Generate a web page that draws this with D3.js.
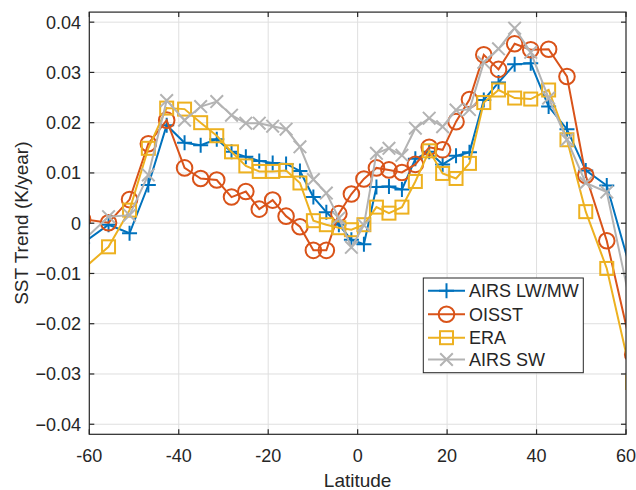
<!DOCTYPE html>
<html>
<head>
<meta charset="utf-8">
<script src="https://cdn.jsdelivr.net/npm/d3@7"></script>
<style>
  body { margin: 0; background: #fff; }
  text { font-family: "Liberation Sans", Arial, sans-serif; fill: #262626; }
</style>
</head>
<body>
<div id="chart"></div>
<script>
// latitude bins (the outer ones fall just outside the axes and get clipped)
const lats = [-61.5, -55.7, -51.0, -46.8, -42.7, -38.7, -35.1, -31.5, -28.2, -25.0,
  -22.0, -19.0, -16.0, -12.9, -9.9, -7.0, -4.2, -1.4, 1.4, 4.2, 7.0, 9.9, 12.9,
  16.0, 19.0, 22.0, 25.0, 28.2, 31.5, 35.1, 38.7, 42.7, 46.8, 51.0, 55.7, 61.5];

const airsLW = [-0.004, -0.0003, -0.002, 0.0076, 0.0195, 0.016, 0.0155, 0.0167, 0.0142, 0.0132,
  0.0124, 0.012, 0.0118, 0.0104, 0.0052, 0.0022, -0.0003, -0.0033, -0.0042, 0.0072, 0.0073, 0.0067, 0.0128,
  0.0142, 0.0117, 0.0134, 0.0141, 0.0245, 0.028, 0.0316, 0.0318, 0.0232, 0.0187, 0.0105, 0.0075, -0.0107];

const oisst = [0.0008, 0.0001, 0.0047, 0.0158, 0.0205, 0.011, 0.0089, 0.0086, 0.0052, 0.0063,
  0.0028, 0.0046, 0.0014, -0.0007, -0.0054, -0.0054, 0.0019, 0.0058, 0.0088, 0.011, 0.0106, 0.0101, 0.0117,
  0.0151, 0.0146, 0.0202, 0.0246, 0.0335, 0.0306, 0.0357, 0.0345, 0.0346, 0.0292, 0.0095, -0.0035, -0.0261];

const era = [-0.0092, -0.0047, 0.0026, 0.0149, 0.0229, 0.0227, 0.02, 0.0174, 0.0142, 0.0114,
  0.0103, 0.0103, 0.0105, 0.008, 0.0005, -0.0003, -0.0009, -0.0013, -0.0003, 0.0032, 0.002, 0.0032, 0.0083,
  0.0144, 0.0099, 0.0089, 0.0119, 0.024, 0.0265, 0.0249, 0.0247, 0.0265, 0.0166, 0.0023, -0.009, -0.0317];

const airsSW = [-0.0036, 0.0013, 0.0016, 0.0096, 0.0244, 0.0205, 0.0232, 0.0242, 0.0215, 0.0199,
  0.0199, 0.0193, 0.0187, 0.0152, 0.0087, 0.006, 0.001, -0.0048, -0.0004, 0.0139, 0.0149, 0.0135, 0.0189,
  0.0209, 0.0192, 0.0225, 0.0226, 0.032, 0.0347, 0.0388, 0.034, 0.0249, 0.0166, 0.008, 0.0062, -0.0182];

const seriesNames = ["AIRS LW/MW", "OISST", "ERA", "AIRS SW"];
const xTicks = [-60, -40, -20, 0, 20, 40, 60];
const yTicks = [-0.04, -0.03, -0.02, -0.01, 0, 0.01, 0.02, 0.03, 0.04];

const W = 636, H = 490;
const box = { left: 89.3, right: 626, top: 12.1, bottom: 434.3 };

const series = [
  { name: seriesNames[0], values: airsLW, color: "#0072BD", marker: "plus" },
  { name: seriesNames[1], values: oisst, color: "#D95319", marker: "circle" },
  { name: seriesNames[2], values: era, color: "#EDB120", marker: "square" },
  { name: seriesNames[3], values: airsSW, color: "#B3B3B3", marker: "cross" }
];

const x = d3.scaleLinear().domain([-60, 60]).range([box.left, box.right]);
const y = d3.scaleLinear().domain([-0.042, 0.042]).range([box.bottom, box.top]);

const svg = d3.select("#chart").append("svg")
    .attr("width", W)
    .attr("height", H);

svg.append("defs").append("clipPath").attr("id", "clip")
  .append("rect")
    .attr("x", box.left).attr("y", box.top)
    .attr("width", box.right - box.left).attr("height", box.bottom - box.top);

// grid
const grid = svg.append("g").attr("stroke", "#dfdfdf").attr("stroke-width", 1);
grid.selectAll(".gx").data(xTicks.slice(1, -1)).join("line")
    .attr("x1", d => x(d)).attr("x2", d => x(d))
    .attr("y1", box.top).attr("y2", box.bottom);
grid.selectAll(".gy").data(yTicks).join("line")
    .attr("x1", box.left).attr("x2", box.right)
    .attr("y1", d => y(d)).attr("y2", d => y(d));

// marker shapes
function drawMarker(g, type, color) {
  const s = 7.5;
  if (type === "plus") {
    g.append("path").attr("d", `M${-s},0H${s}M0,${-s}V${s}`);
  } else if (type === "circle") {
    g.append("circle").attr("r", 7.8);
  } else if (type === "square") {
    g.append("rect").attr("x", -6.5).attr("y", -6.5).attr("width", 13).attr("height", 13);
  } else {
    const c = 6.3;
    g.append("path").attr("d", `M${-c},${-c}L${c},${c}M${-c},${c}L${c},${-c}`);
  }
  g.attr("stroke", color).attr("stroke-width", 2).attr("fill", "none");
}

const line = d3.line().x(d => x(d[0])).y(d => y(d[1]));
const plot = svg.append("g").attr("clip-path", "url(#clip)");

series.forEach(s => {
  const pts = lats.map((la, i) => [la, s.values[i]]);
  const g = plot.append("g");
  g.append("path")
      .attr("d", line(pts))
      .attr("fill", "none")
      .attr("stroke", s.color)
      .attr("stroke-width", 2);
  pts.forEach(p => {
    const m = g.append("g").attr("transform", `translate(${x(p[0])},${y(p[1])})`);
    drawMarker(m, s.marker, s.color);
  });
});

// axes box with inward ticks on all sides
const axisColor = "#262626";
const tl = 5;
const ax = svg.append("g").attr("stroke", axisColor).attr("stroke-width", 1.2);
ax.append("rect")
    .attr("x", box.left).attr("y", box.top)
    .attr("width", box.right - box.left).attr("height", box.bottom - box.top)
    .attr("fill", "none");
xTicks.forEach(t => {
  ax.append("line").attr("x1", x(t)).attr("x2", x(t)).attr("y1", box.bottom).attr("y2", box.bottom - tl);
  ax.append("line").attr("x1", x(t)).attr("x2", x(t)).attr("y1", box.top).attr("y2", box.top + tl);
});
yTicks.forEach(t => {
  ax.append("line").attr("x1", box.left).attr("x2", box.left + tl).attr("y1", y(t)).attr("y2", y(t));
  ax.append("line").attr("x1", box.right).attr("x2", box.right - tl).attr("y1", y(t)).attr("y2", y(t));
});

// tick labels
svg.selectAll(".xl").data(xTicks).join("text")
    .attr("x", d => x(d))
    .attr("y", 461.7)
    .attr("text-anchor", "middle")
    .attr("font-size", 18)
    .text(d => d);
svg.selectAll(".yl").data(yTicks).join("text")
    .attr("x", 81)
    .attr("y", d => y(d) + 6.5)
    .attr("text-anchor", "end")
    .attr("font-size", 18)
    .text(d => d === 0 ? "0" : d3.format(".2f")(d));

// axis labels
svg.append("text")
    .attr("x", (box.left + box.right) / 2)
    .attr("y", 487)
    .attr("text-anchor", "middle")
    .attr("font-size", 19)
    .text("Latitude");
svg.append("text")
    .attr("transform", `translate(28,${(box.top + box.bottom) / 2}) rotate(-90)`)
    .attr("text-anchor", "middle")
    .attr("font-size", 19)
    .text("SST Trend (K/year)");

// legend
const lg = svg.append("g");
lg.append("rect")
    .attr("x", 423.3).attr("y", 278)
    .attr("width", 160).attr("height", 94.7)
    .attr("fill", "#fff")
    .attr("stroke", axisColor)
    .attr("stroke-width", 1);
const rowY = [290.7, 314.3, 337.7, 359.5];
series.forEach((s, i) => {
  const r = lg.append("g");
  r.append("line")
      .attr("x1", 428).attr("x2", 465)
      .attr("y1", rowY[i]).attr("y2", rowY[i])
      .attr("stroke", s.color).attr("stroke-width", 2);
  const m = r.append("g").attr("transform", `translate(446.5,${rowY[i]})`);
  drawMarker(m, s.marker, s.color);
  r.append("text")
      .attr("x", 469)
      .attr("y", rowY[i] + 6.5)
      .attr("font-size", 18)
      .text(s.name);
});
</script>
</body>
</html>
